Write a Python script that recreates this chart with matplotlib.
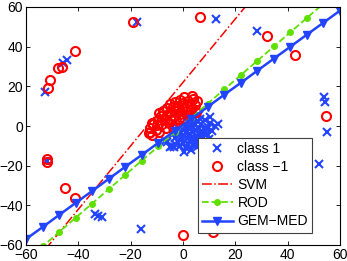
import matplotlib
matplotlib.use("Agg")
import matplotlib.pyplot as plt
import numpy as np

plt.rcParams["font.family"] = ["Liberation Sans", "DejaVu Sans"]

# class 1 samples (blue crosses)
class1_x = [-52.7, -46.0, -44.5, -17.5, 12.7, 28.3, 54.0, 54.4, 55.2, 51.8,
            -52.0, -33.6, -32.6, -31.0, -16.0,
            -6.2, -5.0, -4.3, -3.6, -6.9, -3.0, -2.0, -1.5, -1.0, -0.5, 0.0, 0.0,
            0.5, 1.0, 1.0, 1.5, 1.5, 2.0, 2.0, 2.5, 2.5, 3.0, 3.0, 3.5, 3.5, 4.0,
            4.0, 4.5, 4.5, 5.0, 5.0, 5.5, 5.5, 6.0, 6.0, 6.5, 7.0, 7.0, 7.5, 8.0,
            8.0, 8.5, 9.0, 9.5, 10.0, 10.5, 11.0, 12.2, 13.4, 4.0, 2.0, 6.0, -2.0,
            -4.0, 0.5, 8.5, 10.3, 1.0, 3.0, 5.0, 7.0, -1.0, 2.0, 4.0, 6.0, 8.0,
            9.0, 0.0, -3.0, 3.5, 6.5]
class1_y = [17.0, 32.0, 33.5, 52.3, 54.0, 47.7, 14.5, 12.0, -3.2, -19.2,
            -17.5, -44.4, -45.2, -45.7, -52.0,
            -8.2, -10.7, -9.9, -10.7, -7.4, -6.0, -8.0, -4.0, -10.0, -6.5, -2.0, -8.5,
            -4.5, -11.0, 0.5, -6.0, -2.5, -9.0, 2.0, -4.0, -7.5, -1.0, -12.0, -5.5, 3.5, -3.0,
            -9.5, 0.5, -7.0, -2.0, -5.0, 2.5, -10.5, -4.0, -1.0, -7.5, 1.0, -3.0, -5.5, -1.5,
            -9.0, 3.0, -4.0, -0.5, -6.5, 1.5, -2.5, 0.2, 1.0, 6.0, 5.0, 5.5, -1.0,
            -4.0, -13.0, -11.5, 4.4, -3.5, -6.5, -8.0, -5.0, -7.0, -1.0, 1.5, -6.5, -3.5,
            -1.5, -5.0, -9.0, 0.0, 3.5]

# class -1 samples (red circles)
class2_x = [-51.7, -50.8, -47.7, -46.4, -41.3, -19.2, 6.6, 32.1, 42.7, 54.6,
            0.0, 11.5, -52.1, -52.1, -45.1, -41.3,
            -13.0, -12.5, -11.8, -12.0, -10.5, -10.0, -9.5, -9.0, -8.5, -8.0, -7.5,
            -7.0, -6.5, -6.0, -6.0, -5.5, -5.0, -5.0, -4.5, -4.0, -3.5, -3.0, -3.0,
            -2.5, -2.0, -1.5, -1.0, -1.0, -0.5, 0.0, 0.5, 0.5, 1.0, 1.5, 2.0, 2.5,
            2.7, 3.0, 3.5, 4.0, 4.5, 5.0, 5.5, -2.4, -11.3, -12.6, -9.0, -4.0]
class2_y = [19.0, 23.2, 29.1, 29.9, 37.7, 52.3, 54.8, 45.5, 35.8, 5.2,
            -55.0, -53.6, -16.8, -18.4, -31.4, -36.5,
            -3.5, -1.0, 1.5, -4.5, -2.0, 0.5, 3.0, -3.0, 5.0, 1.0, 7.5,
            3.5, -1.0, 9.0, 5.5, 1.5, 11.0, 7.0, 3.0, 9.5, 5.0, 12.0, 1.0,
            7.5, 10.0, 3.5, 13.0, 6.0, 9.0, 11.5, 4.0, 14.5, 7.5, 10.0, 12.5, 5.5,
            11.1, 8.5, 15.0, 13.6, 10.5, 7.0, 12.5, 9.4, 1.0, -3.2, 6.5, -0.5]

# decision boundaries
svm_x = [-60, 60]
svm_y = [-74.0, 118.0]

grid_x = [-60.0, -53.68, -47.37, -41.05, -34.74, -28.42, -22.11, -15.79, -9.47, -3.16,
          3.16, 9.47, 15.79, 22.11, 28.42, 34.74, 41.05, 47.37, 53.68, 60.0]
rod_y = [-67.9, -60.7, -53.5, -46.3, -39.1, -31.9, -24.7, -17.5, -10.3, -3.1,
         4.1, 11.3, 18.5, 25.7, 32.9, 40.1, 47.3, 54.5, 61.7, 68.9]
gem_y = [-57.0, -51.0, -44.9, -38.8, -32.8, -26.7, -20.6, -14.6, -8.5, -2.4,
         3.6, 9.7, 15.8, 21.8, 27.9, 34.0, 40.0, 46.1, 52.1, 58.2]

ticks = [-60, -40, -20, 0, 20, 40, 60]

BLUE = "#2244ff"
RED = "#ff0000"
GREEN = "#5fe000"

fig = plt.figure(figsize=(3.47, 2.61), dpi=100)
ax = fig.add_axes([26 / 347, 16 / 261, 314 / 347, 238 / 261])

ax.plot(class1_x, class1_y, "x", color=BLUE, ms=5.5, mew=1.5, label="class 1")
ax.plot(class2_x, class2_y, "o", color=RED, mfc="none", ms=6.5, mew=1.5,
        label="class \u22121")
ax.plot(svm_x, svm_y, "-.", color=RED, lw=1.1, label="SVM")
ax.plot(grid_x, rod_y, "--", color=GREEN, lw=1.3, marker=".", ms=8, label="ROD")
ax.plot(grid_x, gem_y, "-", color=BLUE, lw=1.8, marker="v", ms=6,
        label="GEM\u2212MED")

ax.set_xlim(-60, 60)
ax.set_ylim(-60, 60)
ax.set_xticks(ticks)
ax.set_yticks(ticks)
ax.tick_params(direction="in", length=3, width=0.6, labelsize=10,
               top=True, right=True, pad=2)
for sp in ax.spines.values():
    sp.set_linewidth(0.8)

leg = ax.legend(loc="lower right", bbox_to_anchor=(0.911, 0.052),
                borderaxespad=0, fontsize=10, handlelength=2.2,
                handletextpad=0.35, labelspacing=0.3, borderpad=0.3,
                fancybox=False, framealpha=1)
leg.get_frame().set_edgecolor("0.25")
leg.get_frame().set_linewidth(0.8)

fig.savefig("out.png", dpi=100)
